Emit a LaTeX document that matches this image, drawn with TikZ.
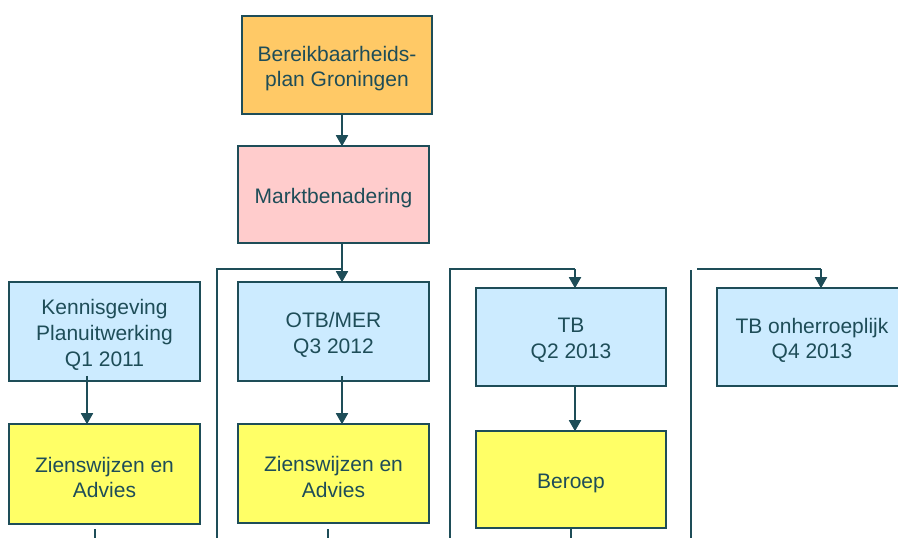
\documentclass[tikz,border=0pt]{standalone}
\usepackage{fontspec}
\setmainfont{Liberation Sans}
\usetikzlibrary{arrows.meta}
\definecolor{ink}{HTML}{1E4D58}
\definecolor{orangebox}{HTML}{FFC966}
\definecolor{pinkbox}{HTML}{FFCCCC}
\definecolor{bluebox}{HTML}{CCEBFF}
\definecolor{yellowbox}{HTML}{FFFF66}
\tikzset{
  box/.style={draw=ink, line width=1.6pt, minimum width=191pt, minimum height=98pt,
    inner sep=0pt},
  lbl/.style={align=center, text=ink, inner sep=0pt, yshift=-3.5pt,
    font=\fontsize{21}{25.7}\selectfont},
  ln/.style={draw=ink, line width=1.8pt},
  arr/.style={ln, -{Triangle[width=12pt,length=11pt]}, shorten >=-1pt}
}
\begin{document}
\begin{tikzpicture}[x=1pt,y=-1pt]
\useasboundingbox (0,0) rectangle (898,538);
\clip (0,0) rectangle (898,538);
\fill[white] (0,0) rectangle (898,538);

% nodes
\node[box, fill=orangebox, minimum width=190pt,
  label={[lbl]center:Bereikbaarheids-\\plan Groningen}] (b1) at (337,65) {};
\node[box, fill=pinkbox, minimum height=97pt,
  label={[lbl]center:Marktbenadering}] (b2) at (333.5,194.5) {};
\node[box, fill=bluebox, minimum height=99pt,
  label={[lbl]center:Kennisgeving\\Planuitwerking\\Q1 2011}] (k1) at (104.5,331.5) {};
\node[box, fill=yellowbox, minimum height=100pt,
  label={[lbl]center:Zienswijzen en\\Advies}] (z1) at (104.5,474) {};
\node[box, fill=bluebox, minimum height=99pt,
  label={[lbl]center:OTB/MER\\Q3 2012}] (o1) at (333.5,331.5) {};
\node[box, fill=yellowbox, minimum height=99pt,
  label={[lbl]center:Zienswijzen en\\Advies}] (z2) at (333.5,473.5) {};
\node[box, fill=bluebox, minimum width=190pt,
  label={[lbl]center:TB\\Q2 2013}] (t1) at (571,337) {};
\node[box, fill=yellowbox, minimum width=190pt, minimum height=97pt,
  label={[lbl]center:Beroep}] (be) at (571,479.5) {};
\node[box, fill=bluebox, minimum width=190pt,
  label={[lbl]center:TB onherroeplijk\\Q4 2013}] (t2) at (812,337) {};

% helper coordinates
\coordinate (j1) at (342,269);
\coordinate (l1) at (217,269);
\coordinate (l1e) at (217,540);
\coordinate (j2) at (575,269);
\coordinate (l2) at (450,269);
\coordinate (l2e) at (450,540);
\coordinate (j3) at (821,269);
\coordinate (h3) at (697,269);
\coordinate (v3) at (691,270);
\coordinate (v3e) at (691,540);
\coordinate (d1) at (95,529);
\coordinate (d1e) at (95,540);
\coordinate (d2) at (328,529);
\coordinate (d2e) at (328,540);
\coordinate (d3e) at (571,540);

% connectors
\draw[arr] ([xshift=5pt]b1.south) -- ([xshift=8.5pt]b2.north);
\draw[arr] ([xshift=8.5pt]b2.south) -- ([xshift=8.5pt]o1.north);
\draw[ln] (l1e) -- (l1) -- (j1);
\draw[ln] (l2e) -- (l2) -- (j2);
\draw[arr] (j2) -- (t1.north -| j2);
\draw[ln] (v3) -- (v3e);
\draw[ln] (h3) -- (j3);
\draw[arr] (j3) -- (t2.north -| j3);
\draw[arr] ([xshift=-17.5pt,yshift=6pt]k1.south) -- ([xshift=-17.5pt]z1.north);
\draw[arr] ([xshift=8.5pt,yshift=6pt]o1.south) -- ([xshift=8.5pt]z2.north);
\draw[arr] ([xshift=4pt]t1.south) -- ([xshift=4pt]be.north);
\draw[ln] (d1) -- (d1e);
\draw[ln] (d2) -- (d2e);
\draw[ln] (be.south) -- (d3e);
\end{tikzpicture}
\end{document}
